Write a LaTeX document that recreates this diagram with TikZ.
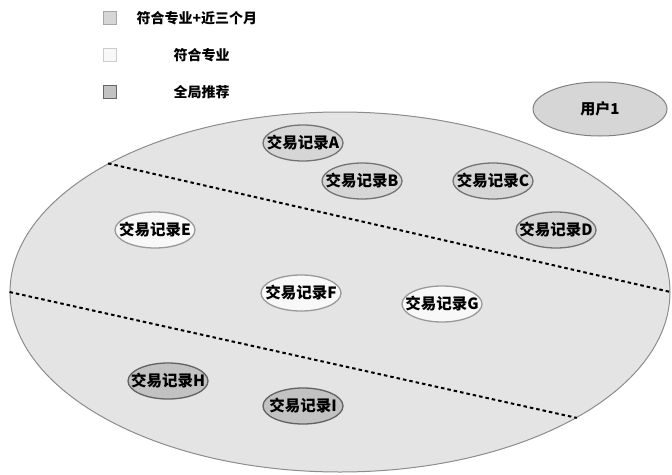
\documentclass[tikz,border=0pt]{standalone}
\usepackage{fontspec}
\setmainfont{Noto Sans CJK SC}
\usetikzlibrary{shapes.geometric}

\definecolor{poolfill}{HTML}{E4E4E4}
\definecolor{nearfill}{HTML}{D6D6D6}
\definecolor{majorfill}{HTML}{F8F8F8}
\definecolor{globalfill}{HTML}{C2C2C2}

\begin{document}
\begin{tikzpicture}[
    x=1pt, y=-1pt,
    every node/.style={font=\fontsize{14}{16}\selectfont\bfseries},
    every label/.style={font=\fontsize{15.5}{17}\selectfont\bfseries},
    poolbox/.style={ellipse, draw=black!45, fill=poolfill, line width=1pt, minimum width=660pt, minimum height=360pt, inner sep=0pt},
    userbox/.style={ellipse, draw=black!50, fill=nearfill, line width=1pt, minimum width=134pt, minimum height=54pt, inner sep=0pt, font=\fontsize{15}{17}\selectfont\bfseries},
    record/.style={ellipse, line width=1.3pt, minimum width=80pt, minimum height=36pt, inner sep=0pt},
    recnear/.style={record, draw=black!55, fill=nearfill},
    recmajor/.style={record, draw=black!40, fill=majorfill},
    recglobal/.style={record, draw=black!62, fill=globalfill},
    legendbox/.style={rectangle, minimum size=12.5pt, inner sep=0pt, line width=1pt},
    cutline/.style={line width=2pt, dash pattern=on 3.5pt off 3pt}
]
\useasboundingbox (0,0) rectangle (672,474);

% Legend
\node[legendbox, draw=black!35, fill=nearfill]   (keyA) at (110,18) {};
\node[legendbox, draw=black!20, fill=majorfill]  (keyB) at (110,55) {};
\node[legendbox, draw=black!60, fill=globalfill] (keyC) at (110,92) {};
\node[anchor=west] (keyAtext) at (133,18) {符合专业+近三个月};
\node[anchor=west] (keyBtext) at (170,55) {符合专业};
\node[anchor=west] (keyCtext) at (170,92) {全局推荐};

% User
\node[userbox] (user) at (600,109) {用户1};

% Record pool and its two cuts
\node[poolbox] (pool) at (340,292) {};
\draw[cutline] (pool.151.3) -- (pool.east);
\draw[cutline] (pool.west) -- (pool.-28.6);

% Records
\node[recnear, label=center:{交易记录A}]   (recA) at (303,143) {};
\node[recnear, label=center:{交易记录B}]   (recB) at (362,181) {};
\node[recnear, label=center:{交易记录C}]   (recC) at (493,181) {};
\node[recnear, label=center:{交易记录D}]   (recD) at (556,230) {};
\node[recmajor, label=center:{交易记录E}]  (recE) at (155,230) {};
\node[recmajor, label=center:{交易记录F}]  (recF) at (301,293) {};
\node[recmajor, label=center:{交易记录G}]  (recG) at (442,304) {};
\node[recglobal, label=center:{交易记录H}] (recH) at (168,381) {};
\node[recglobal, label=center:{交易记录I}] (recI) at (303,406) {};

\end{tikzpicture}
\end{document}
